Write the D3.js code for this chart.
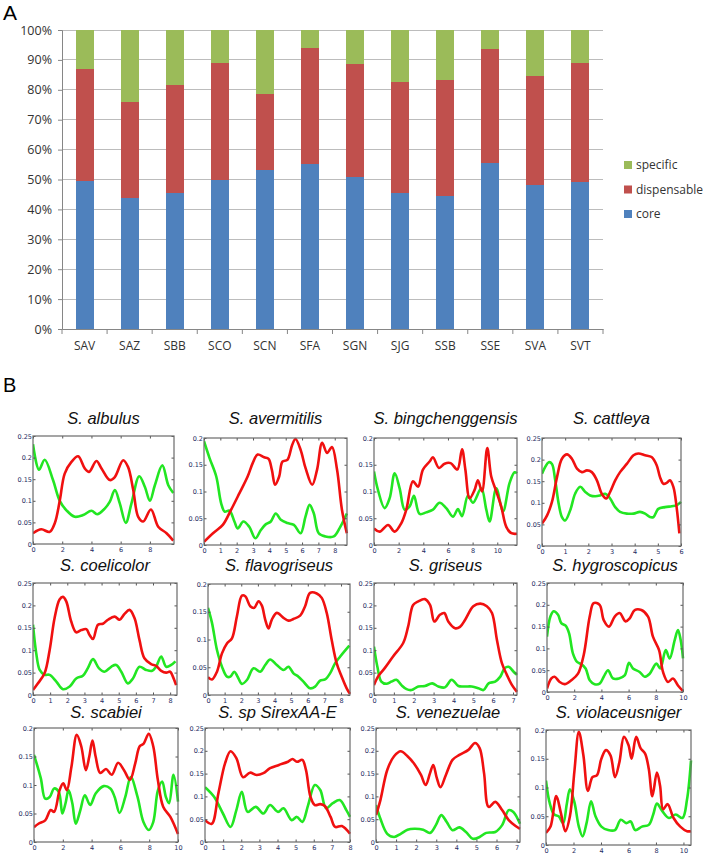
<!DOCTYPE html>
<html><head><meta charset="utf-8">
<script src="https://cdn.jsdelivr.net/npm/d3@7"></script>
<style>body{margin:0;background:#fff}svg{display:block}</style>
</head><body>
<svg id="c" width="703" height="857"></svg>
<script>
// ---------- DATA: panel A ----------
const categories = ["SAV","SAZ","SBB","SCO","SCN","SFA","SGN","SJG","SSB","SSE","SVA","SVT"];
const core        = [49.5,43.9,45.4,49.8,53.2,55.3,50.8,45.4,44.5,55.6,48.1,49.3];
const dispensable = [37.4,32.1,36.2,39.1,25.4,38.7,37.8,37.3,38.8,37.9,36.5,39.6];
const specific    = [13.1,24.0,18.4,11.1,21.4, 6.0,11.4,17.3,16.7, 6.5,15.4,11.1];
const seriesNames = ["core","dispensable","specific"];
const yTicksA = [0,10,20,30,40,50,60,70,80,90,100];

// ---------- DATA: panel B (x, value) ----------
const titles = ["S. albulus","S. avermitilis","S. bingchenggensis","S. cattleya",
  "S. coelicolor","S. flavogriseus","S. griseus","S. hygroscopicus",
  "S. scabiei","S. sp SirexAA-E","S. venezuelae","S. violaceusniger"];
const xMax = [9.65,8.75,11.6,6,8.4,8.54,7.2,10,10,8,7.17,10.55];
const yMax = [0.25,0.2,0.2,0.25,0.25,0.2,0.25,0.25,0.2,0.25,0.25,0.2];
const xStep = [2,1,2,1,1,1,1,2,2,1,1,2];

const albulusG=[[0,.231],[.41,.172],[.8,.195],[1.37,.148],[1.83,.10],[2.29,.078],[2.86,.063],[3.43,.067],[4.0,.077],[4.39,.069],[4.91,.082],[5.26,.098],[5.6,.125],[5.94,.094],[6.35,.049],[6.74,.094],[7.27,.157],[7.66,.132],[8.0,.10],[8.34,.136],[8.85,.182],[9.26,.136],[9.6,.118]];
const albulusR=[[0,.025],[.57,.034],[1.14,.028],[1.49,.048],[1.83,.10],[2.17,.163],[2.63,.19],[3.09,.203],[3.54,.175],[3.84,.167],[4.34,.192],[4.69,.175],[5.26,.148],[5.6,.155],[6.17,.194],[6.51,.178],[6.86,.125],[7.2,.063],[7.54,.052],[8.07,.08],[8.57,.04],[9.14,.025],[9.6,.008]];
const avermitilisG=[[0,.194],[.34,.1625],[.75,.128],[1.05,.078],[1.26,.0625],[1.56,.064],[1.86,.044],[2.06,.031],[2.41,.044],[2.77,.034],[3.14,.0125],[3.48,.028],[3.79,.039],[4.09,.044],[4.39,.059],[4.7,.047],[5.1,.041],[5.5,.0375],[5.91,.022],[6.21,.053],[6.46,.075],[6.72,.059],[7.02,.022],[7.43,.016],[7.94,.016],[8.34,.034],[8.74,.059]];
const avermitilisR=[[0,.006],[.55,.022],[1.15,.0375],[1.66,.066],[2.17,.097],[2.67,.128],[2.98,.153],[3.28,.169],[3.68,.164],[3.95,.161],[4.15,.141],[4.35,.1125],[4.6,.128],[4.8,.156],[5.1,.159],[5.4,.1875],[5.6,.198],[5.91,.178],[6.21,.144],[6.62,.1125],[6.92,.141],[7.23,.191],[7.53,.172],[7.83,.183],[8.14,.141],[8.44,.066],[8.74,.022]];
const bingG=[[0,.1375],[.32,.103],[.86,.069],[1.27,.0875],[1.68,.134],[2.08,.106],[2.49,.066],[2.89,.072],[3.24,.092],[3.7,.058],[4.24,.061],[4.78,.066],[5.32,.079],[5.86,.069],[6.4,.053],[6.81,.067],[7.14,.054],[7.62,.092],[8.03,.079],[8.7,.106],[9.11,.066],[9.38,.044],[9.92,.106],[10.46,.0625],[11.0,.116],[11.4,.136],[11.6,.134]];
const bingR=[[0,.031],[.46,.025],[1.14,.0375],[1.68,.025],[2.22,.041],[2.62,.066],[3.16,.119],[3.57,.109],[3.97,.141],[4.51,.156],[4.78,.164],[5.27,.144],[5.73,.152],[6.22,.153],[6.76,.141],[7.14,.179],[7.41,.141],[7.76,.0875],[8.16,.103],[8.43,.121],[8.76,.10],[9.19,.181],[9.51,.128],[9.92,.10],[10.32,.072],[10.73,.034],[11.14,.022],[11.6,.021]];
const cattleyaG=[[0,.167],[.14,.183],[.29,.194],[.43,.19],[.57,.152],[.72,.098],[.86,.067],[1.0,.059],[1.22,.083],[1.43,.121],[1.65,.137],[1.87,.125],[2.08,.117],[2.3,.115],[2.51,.117],[2.73,.121],[2.94,.11],[3.16,.09],[3.37,.079],[3.66,.075],[3.95,.075],[4.23,.079],[4.45,.075],[4.66,.067],[4.81,.067],[5.02,.086],[5.31,.09],[5.6,.092],[5.81,.094],[6.0,.102]];
const cattleyaR=[[0,.052],[.22,.071],[.43,.102],[.65,.16],[.86,.202],[1.08,.212],[1.29,.202],[1.51,.179],[1.72,.171],[1.94,.175],[2.15,.171],[2.37,.152],[2.58,.121],[2.77,.11],[2.94,.125],[3.16,.152],[3.37,.171],[3.66,.19],[3.95,.21],[4.16,.214],[4.45,.21],[4.73,.206],[4.95,.187],[5.09,.16],[5.24,.144],[5.38,.146],[5.52,.152],[5.67,.137],[5.81,.09],[5.93,.029]];
const coelicolorG=[[0,.157],[.19,.093],[.39,.056],[.68,.045],[.97,.045],[1.36,.03],[1.75,.013],[2.14,.019],[2.52,.037],[2.91,.043],[3.2,.06],[3.5,.08],[3.84,.06],[4.17,.052],[4.56,.063],[4.85,.067],[5.15,.052],[5.53,.026],[5.83,.037],[6.21,.063],[6.6,.056],[6.95,.054],[7.18,.063],[7.48,.086],[7.77,.063],[8.06,.067],[8.31,.075]];
const coelicolorR=[[0,.011],[.29,.026],[.68,.049],[.97,.10],[1.26,.172],[1.55,.213],[1.75,.219],[1.94,.209],[2.23,.164],[2.52,.14],[2.82,.145],[3.11,.147],[3.3,.134],[3.5,.125],[3.79,.157],[4.08,.159],[4.37,.168],[4.76,.175],[5.05,.168],[5.34,.181],[5.63,.19],[5.92,.172],[6.21,.123],[6.5,.082],[6.89,.069],[7.18,.065],[7.48,.054],[7.77,.05],[8.0,.052],[8.16,.041],[8.35,.022]];
const flavoG=[[0,.157],[.24,.13],[.54,.081],[.84,.051],[1.14,.033],[1.34,.033],[1.58,.042],[1.78,.033],[2.04,.02],[2.34,.027],[2.74,.048],[3.14,.042],[3.44,.054],[3.74,.064],[4.14,.054],[4.54,.045],[4.84,.051],[5.14,.039],[5.44,.033],[5.74,.024],[6.14,.012],[6.44,.015],[6.74,.026],[7.04,.028],[7.34,.039],[7.64,.057],[7.94,.069],[8.24,.08],[8.5,.089]];
const flavoR=[[0,.032],[.24,.028],[.54,.042],[.84,.075],[1.14,.093],[1.44,.102],[1.74,.142],[2.04,.179],[2.24,.178],[2.54,.16],[2.78,.157],[3.04,.169],[3.24,.161],[3.44,.136],[3.64,.12],[3.84,.136],[4.14,.148],[4.54,.139],[4.84,.134],[5.14,.137],[5.54,.143],[5.84,.16],[6.14,.184],[6.54,.183],[6.84,.175],[7.14,.148],[7.44,.099],[7.74,.057],[8.04,.033],[8.34,.012],[8.54,.002]];
const griseusG=[[0,.108],[.17,.063],[.37,.03],[.62,.025],[.88,.03],[1.13,.034],[1.38,.022],[1.64,.013],[1.89,.011],[2.23,.019],[2.56,.02],[2.93,.026],[3.24,.019],[3.57,.017],[3.91,.034],[4.25,.02],[4.59,.019],[4.92,.019],[5.26,.015],[5.51,.011],[5.77,.026],[6.1,.03],[6.36,.041],[6.58,.06],[6.78,.063],[7.03,.052],[7.2,.045]];
const griseusR=[[0,.022],[.2,.041],[.54,.06],[.96,.086],[1.47,.116],[1.72,.153],[1.97,.201],[2.23,.209],[2.56,.214],[2.82,.201],[3.04,.164],[3.32,.179],[3.54,.183],[3.74,.164],[4.08,.149],[4.33,.152],[4.59,.168],[5.0,.198],[5.35,.204],[5.68,.198],[5.94,.183],[6.19,.123],[6.44,.071],[6.69,.045],[6.95,.022],[7.2,.007]];
const hygroG=[[0,.127],[.25,.173],[.49,.185],[.81,.177],[1.05,.158],[1.37,.152],[1.62,.135],[1.91,.088],[2.21,.069],[2.52,.064],[2.84,.054],[3.14,.027],[3.5,.018],[3.87,.019],[4.17,.035],[4.49,.05],[4.85,.031],[5.29,.031],[5.71,.038],[6.03,.067],[6.32,.054],[6.81,.046],[7.18,.035],[7.55,.042],[8.04,.065],[8.33,.054],[8.73,.096],[9.02,.077],[9.39,.119],[9.63,.142],[9.83,.119],[10,.077]];
const hygroR=[[0,.008],[.32,.031],[.56,.035],[.93,.023],[1.3,.018],[1.79,.027],[2.28,.042],[2.7,.085],[3.14,.173],[3.43,.204],[3.87,.20],[4.17,.165],[4.56,.15],[4.98,.173],[5.34,.181],[5.78,.162],[6.08,.169],[6.45,.188],[6.94,.188],[7.43,.173],[7.79,.127],[8.24,.096],[8.53,.046],[8.9,.023],[9.26,.031],[9.63,.015],[10,.002]];
const scabieiG=[[0,.153],[.47,.112],[.78,.076],[1.09,.079],[1.4,.094],[1.72,.088],[1.97,.05],[2.19,.068],[2.4,.091],[2.66,.068],[2.9,.032],[3.22,.056],[3.53,.082],[3.9,.065],[4.28,.085],[4.84,.098],[5.3,.094],[5.6,.079],[5.94,.051],[6.34,.079],[6.72,.114],[7.19,.079],[7.6,.035],[7.97,.021],[8.28,.035],[8.6,.09],[8.9,.106],[9.16,.079],[9.38,.068],[9.69,.118],[10,.071]];
const scabieiR=[[0,.026],[.31,.032],[.78,.038],[1.16,.056],[1.4,.053],[1.78,.091],[2.03,.103],[2.28,.091],[2.6,.132],[2.97,.188],[3.28,.168],[3.6,.126],[3.84,.15],[4.06,.178],[4.28,.15],[4.6,.121],[5.0,.128],[5.4,.118],[5.84,.139],[6.25,.126],[6.66,.109],[7.03,.138],[7.34,.168],[7.6,.172],[7.97,.19],[8.28,.168],[8.6,.109],[8.97,.062],[9.47,.044],[10,.014]];
const sirexG=[[0,.12],[.5,.099],[.99,.0625],[1.41,.033],[1.73,.07],[2.03,.11],[2.35,.066],[2.8,.077],[3.22,.0625],[3.59,.081],[4.03,.066],[4.33,.074],[4.78,.048],[5.07,.055],[5.37,.044],[5.69,.081],[6.06,.125],[6.36,.114],[6.68,.074],[7.05,.085],[7.43,.092],[7.8,.07],[8,.055]];
const sirexR=[[0,.048],[.37,.04],[.74,.107],[1.11,.173],[1.41,.199],[1.73,.184],[2.1,.142],[2.48,.152],[2.85,.147],[3.22,.151],[3.59,.162],[4.08,.169],[4.58,.176],[4.83,.182],[5.07,.176],[5.37,.18],[5.57,.158],[5.82,.099],[6.06,.081],[6.36,.083],[6.61,.079],[6.93,.055],[7.18,.033],[7.55,.035],[8,.018]];
const venezG=[[0,.081],[.22,.051],[.56,.018],[.9,.011],[1.23,.018],[1.57,.027],[1.91,.029],[2.35,.027],[2.69,.02],[2.98,.037],[3.25,.059],[3.52,.044],[3.81,.026],[4.15,.032],[4.48,.022],[4.82,.007],[5.16,.011],[5.49,.02],[5.94,.022],[6.28,.037],[6.61,.07],[6.84,.066],[7.17,.04]];
const venezR=[[0,.059],[.22,.092],[.56,.158],[.9,.188],[1.23,.199],[1.57,.188],[1.91,.171],[2.24,.147],[2.47,.125],[2.69,.151],[2.85,.169],[3.03,.14],[3.21,.12],[3.48,.147],[3.81,.18],[4.15,.191],[4.6,.202],[4.93,.217],[5.16,.206],[5.38,.151],[5.61,.077],[5.94,.088],[6.28,.07],[6.61,.048],[6.95,.035],[7.17,.029]];
const violG=[[0,.112],[.26,.074],[.59,.053],[.92,.05],[1.25,.038],[1.51,.071],[1.74,.097],[2.07,.074],[2.39,.032],[2.66,.015],[2.95,.038],[3.28,.076],[3.6,.05],[4.03,.032],[4.52,.026],[5.02,.026],[5.44,.044],[5.84,.038],[6.16,.041],[6.49,.026],[6.98,.032],[7.48,.035],[7.8,.053],[8.07,.072],[8.46,.059],[8.95,.047],[9.44,.053],[9.93,.047],[10.26,.079],[10.55,.147]];
const violR=[[0,.021],[.33,.032],[.75,.085],[1.08,.056],[1.41,.024],[1.74,.05],[2.07,.129],[2.39,.197],[2.72,.156],[3.05,.094],[3.38,.118],[3.7,.121],[4.03,.15],[4.36,.165],[4.69,.156],[5.02,.118],[5.34,.144],[5.67,.188],[6.0,.174],[6.23,.15],[6.56,.188],[6.89,.168],[7.21,.159],[7.48,.132],[7.74,.085],[8.07,.126],[8.3,.103],[8.52,.062],[8.85,.071],[9.28,.047],[9.77,.032],[10.26,.024],[10.55,.024]];
const greenSeries=[albulusG,avermitilisG,bingG,cattleyaG,coelicolorG,flavoG,griseusG,hygroG,scabieiG,sirexG,venezG,violG];
const redSeries=[albulusR,avermitilisR,bingR,cattleyaR,coelicolorR,flavoR,griseusR,hygroR,scabieiR,sirexR,venezR,violR];

// ---------- LAYOUT ----------
const panelBox = [ // [left, top, right, bottom]
 [33,436,174,544],[204,438,347,545],[374,438,517,545],[542,438,681,546],
 [33,583,177,695],[208,584,350,695],[374,583,517,695],[547,583,683,692],
 [34,728,178,842],[205,728,350,842],[376,728,520,842],[546,730,691,845]];
const titleY=[424,571,718];

const svg=d3.select("#c");
const fontA="'Open Sans', 'Liberation Sans', sans-serif";
const colors={core:"#4f81bd",dispensable:"#c0504d",specific:"#9bbb59"};

// ---------- Panel A ----------
svg.append("text").attr("x",3).attr("y",20).attr("font-family","'Liberation Sans',Arial,sans-serif").attr("font-size",21).text("A");
const xA=d3.scaleBand().domain(categories).range([62,603]).paddingInner(0.6).paddingOuter(0.3);
const yA=d3.scaleLinear().domain([0,100]).range([329,30]);
const gA=svg.append("g");
gA.selectAll("line.grid").data(yTicksA.filter(d=>d>0)).join("line")
  .attr("x1",62).attr("x2",603).attr("y1",d=>yA(d)).attr("y2",d=>yA(d))
  .attr("stroke","#bcbcbc").attr("stroke-width",1).attr("shape-rendering","crispEdges");
const rows=categories.map((c,i)=>({cat:c,core:core[i],dispensable:dispensable[i],specific:specific[i]}));
const stack=d3.stack().keys(seriesNames)(rows);
gA.selectAll("g.s").data(stack).join("g").attr("fill",d=>colors[d.key])
  .selectAll("rect").data(d=>d).join("rect")
  .attr("x",d=>xA(d.data.cat)).attr("width",xA.bandwidth())
  .attr("y",d=>yA(d[1])).attr("height",d=>yA(d[0])-yA(d[1])).attr("shape-rendering","crispEdges");
const yAxisA=gA.append("g").attr("transform","translate(62,0)")
  .call(d3.axisLeft(yA).tickValues(yTicksA).tickFormat(d=>d+"%").tickSize(4).tickPadding(6));
yAxisA.selectAll("line,path").attr("stroke","#868686");
yAxisA.selectAll("text").attr("font-family",fontA).attr("font-size",12.5).attr("fill","#333");
const xAxisA=gA.append("g").attr("transform","translate(0,329)")
  .call(d3.axisBottom(xA).tickSize(0).tickPadding(12));
xAxisA.select("path").attr("stroke","#868686");
xAxisA.selectAll("text").attr("font-family",fontA).attr("font-size",12).attr("fill","#333");
// category separator ticks
gA.selectAll("line.sep").data(d3.range(categories.length+1)).join("line")
  .attr("x1",i=>62+i*xA.step()).attr("x2",i=>62+i*xA.step()).attr("y1",329).attr("y2",334)
  .attr("stroke","#868686");
// legend
const leg=svg.append("g");
["specific","dispensable","core"].forEach((k,i)=>{
  const y=161+i*24.5;
  leg.append("rect").attr("x",624).attr("y",y).attr("width",8).attr("height",8).attr("fill",colors[k]);
  leg.append("text").attr("x",636).attr("y",y+8).attr("font-family",fontA).attr("font-size",12).attr("fill","#333").text(k);
});

// ---------- Panel B ----------
svg.append("text").attr("x",3).attr("y",392).attr("font-family","'Liberation Sans',Arial,sans-serif").attr("font-size",20).text("B");
const defs=svg.append("defs");
titles.forEach((t,i)=>{
  const [l,tp,r,b]=panelBox[i];
  const x=d3.scaleLinear().domain([0,xMax[i]]).range([l,r]);
  const y=d3.scaleLinear().domain([0,yMax[i]]).range([b,tp]);
  const g=svg.append("g");
  svg.append("text").attr("x",(l+r)/2).attr("y",titleY[Math.floor(i/4)]).attr("text-anchor","middle")
    .attr("font-family","'Liberation Sans',Arial,sans-serif").attr("font-style","italic").attr("font-size",16.5).attr("fill","#111").text(t);
  defs.append("clipPath").attr("id","cp"+i).append("rect").attr("x",l).attr("y",tp-2).attr("width",r-l+2).attr("height",b-tp+2);
  const line=d3.line().x(d=>x(d[0])).y(d=>y(d[1])).curve(d3.curveCatmullRom.alpha(0.5));
  const cg=g.append("g").attr("clip-path",`url(#cp${i})`);
  cg.append("path").attr("d",line(greenSeries[i])).attr("fill","none").attr("stroke","#22e622").attr("stroke-width",2.6);
  cg.append("path").attr("d",line(redSeries[i])).attr("fill","none").attr("stroke","#f01010").attr("stroke-width",2.6);
  const xt=d3.range(0,xMax[i]+1e-9,xStep[i]);
  const yt=d3.range(0,yMax[i]+1e-9,0.05).map(v=>+v.toFixed(2));
  const ax=g.append("g").attr("transform",`translate(0,${b})`).call(d3.axisBottom(x).tickValues(xt).tickFormat(d3.format("d")).tickSizeInner(-2.5).tickSizeOuter(0).tickPadding(3));
  const ay=g.append("g").attr("transform",`translate(${l},0)`).call(d3.axisLeft(y).tickValues(yt).tickFormat(d=>d===0?"0":String(d)).tickSizeInner(-2.5).tickSizeOuter(0).tickPadding(1));
  // top and right ticks
  g.append("g").attr("transform",`translate(0,${tp})`).call(d3.axisTop(x).tickValues(xt).tickFormat("").tickSizeInner(-2.5).tickSizeOuter(0));
  g.append("g").attr("transform",`translate(${r},0)`).call(d3.axisRight(y).tickValues(yt).tickFormat("").tickSizeInner(-2.5).tickSizeOuter(0));
  g.selectAll(".domain").remove();
  g.selectAll(".tick line").attr("stroke","#555");
  g.selectAll(".tick text").attr("font-family","'DejaVu Sans',sans-serif").attr("font-size",6.5).attr("fill","#1c2a60");
  g.append("rect").attr("x",l).attr("y",tp).attr("width",r-l).attr("height",b-tp).attr("fill","none").attr("stroke","#6a6a6a").attr("stroke-width",1.2);
});
</script>
</body></html>
